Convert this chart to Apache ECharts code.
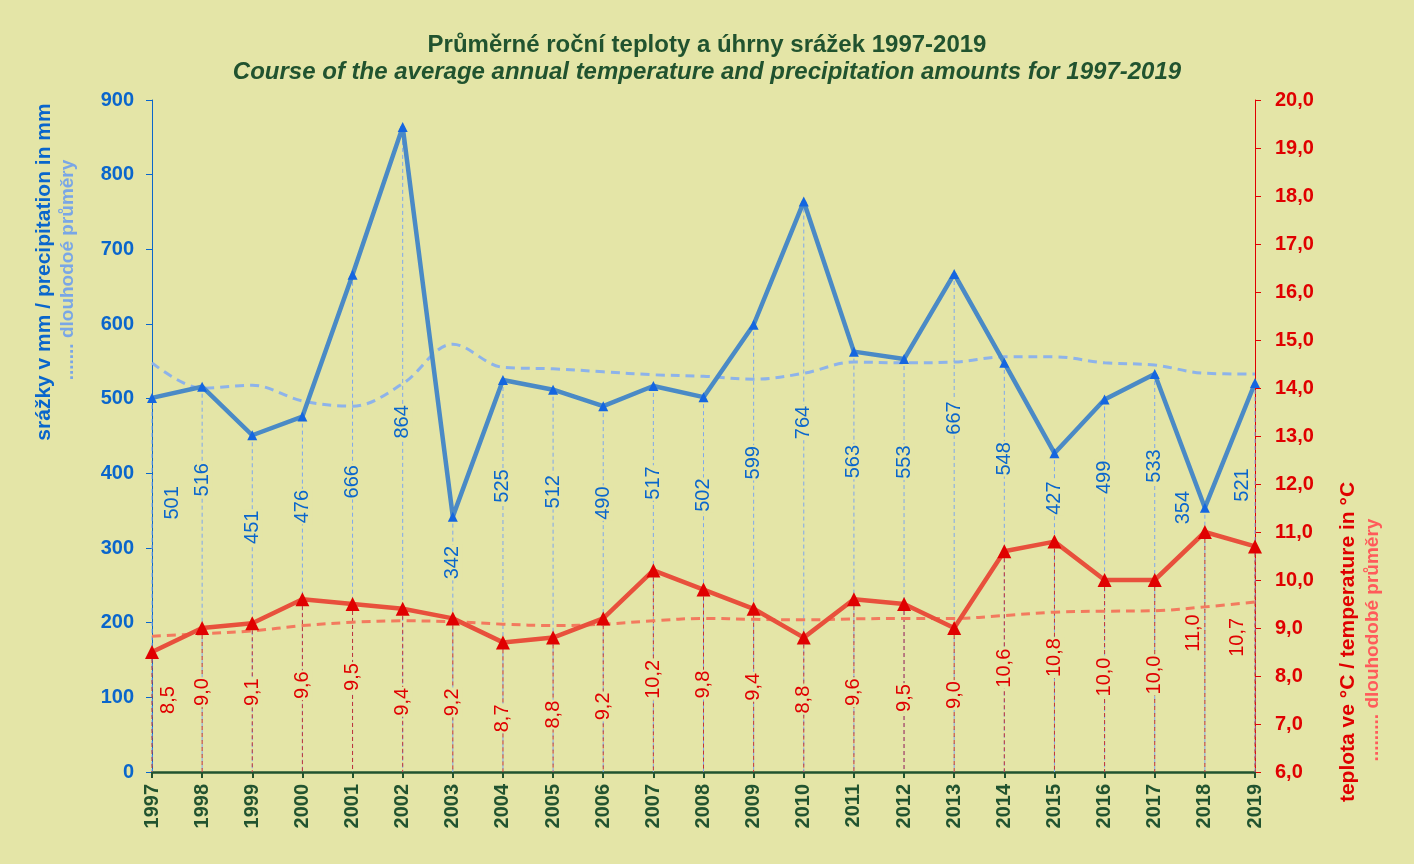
<!DOCTYPE html>
<html><head><meta charset="utf-8">
<script src="https://cdn.jsdelivr.net/npm/echarts@6/dist/echarts.min.js"></script>
<style>html,body{margin:0;padding:0;background:#E4E5A7}#c{width:1414px;height:864px}</style>
</head><body><div id="c"></div>
<script>
const years = ['1997','1998','1999','2000','2001','2002','2003','2004','2005','2006','2007','2008','2009','2010','2011','2012','2013','2014','2015','2016','2017','2018','2019'];
const precip = [501,516,451,476,666,864,342,525,512,490,517,502,599,764,563,553,667,548,427,499,533,354,521];
const temp = [8.5,9.0,9.1,9.6,9.5,9.4,9.2,8.7,8.8,9.2,10.2,9.8,9.4,8.8,9.6,9.5,9.0,10.6,10.8,10.0,10.0,11.0,10.7];
const precipAvg = [548,514,518,497,490,520,573,542,540,536,532,530,526,534,549,548,549,556,556,548,545,534,533];
const tempAvg = [8.83,8.88,8.94,9.05,9.12,9.15,9.13,9.08,9.05,9.08,9.15,9.2,9.18,9.17,9.19,9.2,9.2,9.26,9.33,9.35,9.36,9.44,9.54];
const precipTicks = [0,100,200,300,400,500,600,700,800,900];
const tempTicks = [6,7,8,9,10,11,12,13,14,15,16,17,18,19,20];

// label placement offsets in screen pixels [x, y] — styling only
const pOff = [[20,105],[0,93],[0,92],[0,90],[0,207],[0,295],[0,46],[0,106],[0,102],[0,97],[0,97],[0,98],[0,138],[0,221],[0,110],[0,103],[0,144],[0,96],[0,45],[0,78],[0,92],[-21,0],[-13,102]];
const tOff = [[16,48],[0,64],[0,69],[0,86],[0,73],[0,93],[0,84],[0,76],[0,77],[0,88],[0,109],[0,95],[0,78],[0,62],[0,93],[0,94],[0,67],[0,117],[0,116],[0,97],[0,95],[-11,101],[-18,91]];

const BG = '#E4E5A7';
const GREEN = '#21532F';
const BLUE = '#0A66CC';
const RED = '#E00000';
const FONT = '"Liberation Sans", Arial, sans-serif';

const chart = echarts.init(document.getElementById('c'));

function dropLine(color, yIdx, base) {
  return {
    type: 'custom', yAxisIndex: yIdx, z: 1, silent: true,
    data: (yIdx === 0 ? precip : temp).map((v, i) => [i, v]),
    encode: {x: 0, y: 1},
    renderItem: function (params, api) {
      const p1 = api.coord([api.value(0), api.value(1)]);
      const p2 = api.coord([api.value(0), base]);
      return {type: 'line', shape: {x1: p1[0], y1: p1[1], x2: p2[0], y2: p2[1]},
        style: {stroke: color, lineWidth: 1, lineDash: [4, 3]}};
    }
  };
}
// labels are rotated 90°, so layout offsets act in the rotated frame
const rotLayout = off => p => ({dx: -off[p.dataIndex][1], dy: off[p.dataIndex][0], hideOverlap: false});

chart.setOption({
  backgroundColor: BG,
  animation: false,
  textStyle: {fontFamily: FONT},
  title: {
    text: 'Průměrné roční teploty a úhrny srážek 1997-2019',
    subtext: 'Course of the average annual temperature and precipitation amounts for 1997-2019',
    left: 'center', top: 28, itemGap: 3,
    textStyle: {fontFamily: FONT, fontSize: 24, fontWeight: 'bold', color: GREEN},
    subtextStyle: {fontFamily: FONT, fontSize: 24, fontWeight: 'bold', fontStyle: 'italic', color: GREEN}
  },
  grid: {left: 152, right: 159, top: 100, bottom: 92, containLabel: false},
  xAxis: {
    type: 'category', data: years, boundaryGap: false,
    axisLine: {lineStyle: {color: GREEN, width: 2.5}},
    axisTick: {show: true, length: 6, lineStyle: {color: GREEN, width: 2}, alignWithLabel: true},
    axisLabel: {rotate: 90, interval: 0, color: GREEN, fontSize: 20, fontWeight: 'bold', fontFamily: FONT, margin: 12},
    splitLine: {show: false}
  },
  yAxis: [
    {type: 'value', min: precipTicks[0], max: precipTicks[precipTicks.length - 1], interval: 100, position: 'left',
      axisLine: {show: true, lineStyle: {color: BLUE, width: 1}},
      axisTick: {show: true, length: 6, lineStyle: {color: BLUE}},
      axisLabel: {color: BLUE, fontSize: 20, fontWeight: 'bold', fontFamily: FONT, margin: 18},
      splitLine: {show: false}},
    {type: 'value', min: tempTicks[0], max: tempTicks[tempTicks.length - 1], interval: 1, position: 'right',
      axisLine: {show: true, lineStyle: {color: RED, width: 1}},
      axisTick: {show: true, length: 6, lineStyle: {color: RED}},
      axisLabel: {color: RED, fontSize: 20, fontWeight: 'bold', fontFamily: FONT, margin: 20,
        formatter: v => v.toFixed(1).replace('.', ',')},
      splitLine: {show: false}}
  ],
  graphic: [
    {type: 'text', x: 44, y: 272, rotation: Math.PI / 2,
      style: {text: 'srážky v mm / precipitation in mm', fill: BLUE, font: 'bold 21px ' + FONT, align: 'center', verticalAlign: 'middle'}},
    {type: 'text', x: 68, y: 270, rotation: Math.PI / 2,
      style: {text: '....... dlouhodoé průměry', fill: '#79A6E6', font: 'bold 19px ' + FONT, align: 'center', verticalAlign: 'middle'}},
    {type: 'text', x: 1348, y: 642, rotation: Math.PI / 2,
      style: {text: 'teplota ve °C / temperature in °C', fill: RED, font: 'bold 21px ' + FONT, align: 'center', verticalAlign: 'middle'}},
    {type: 'text', x: 1373, y: 640, rotation: Math.PI / 2,
      style: {text: '......... dlouhodobé průměry', fill: '#FF5A5A', font: 'bold 19px ' + FONT, align: 'center', verticalAlign: 'middle'}}
  ],
  series: [
    dropLine('#7FA8EC', 0, 0),
    dropLine('#C03438', 1, 6),
    {name: 'precipAvg', type: 'line', yAxisIndex: 0, data: precipAvg, smooth: 0.35, symbol: 'none', z: 2,
      lineStyle: {color: '#8DB3EA', width: 3, type: [9, 6]}},
    {name: 'tempAvg', type: 'line', yAxisIndex: 1, data: tempAvg, smooth: 0.35, symbol: 'none', z: 2,
      lineStyle: {color: '#F37A5E', width: 3, type: [9, 6]}},
    {name: 'precip', type: 'line', yAxisIndex: 0, z: 3, data: precip,
      symbol: 'triangle', symbolSize: 10, itemStyle: {color: '#1466E0'},
      lineStyle: {color: '#4A8AC6', width: 4.5},
      label: {show: true, position: 'inside', rotate: 90, color: BLUE, fontSize: 20, fontFamily: FONT,
        align: 'center', verticalAlign: 'middle', backgroundColor: BG, padding: [0, 1]},
      labelLayout: rotLayout(pOff)},
    {name: 'temp', type: 'line', yAxisIndex: 1, z: 4, data: temp,
      symbol: 'triangle', symbolSize: 14, itemStyle: {color: '#E00000'},
      lineStyle: {color: '#E8503C', width: 4.5},
      label: {show: true, position: 'inside', rotate: 90, color: RED, fontSize: 20, fontFamily: FONT,
        align: 'center', verticalAlign: 'middle', backgroundColor: BG, padding: [0, 1],
        formatter: p => p.value.toFixed(1).replace('.', ',')},
      labelLayout: rotLayout(tOff)}
  ]
});
</script></body></html>
